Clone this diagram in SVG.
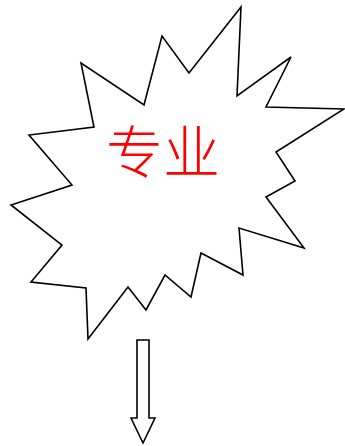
<svg xmlns="http://www.w3.org/2000/svg" width="345" height="446" viewBox="0 0 345 446">
<style>
.shape{fill:#fff;stroke:#000;stroke-width:1.6;stroke-linejoin:miter}
.label{font-family:"Noto Sans CJK SC","Noto Sans CJK JP",sans-serif;font-size:57px;font-weight:300;fill:#f00}
</style>
<rect width="345" height="446" fill="#fff"/>
<g id="burst">
<polygon class="shape" points="241,7 237,96 291,57 266,107 344,109 276,152 295,181 266,197 304,248 239,228 243,275 201,253 191,297 165,275 146,310 128,287 88,339 86,288 31,282 62,245 11,205 72,185 29,135 94,127 81,63 144,105 162,36 189,73"/>
<text class="label" x="163" y="173" text-anchor="middle">专业</text>
</g>
<g id="connectors">
<polygon class="shape" stroke-width="1.3" points="137,340 149,340 149,418 155,418 143,443 131,418 137,418"/>
</g>
</svg>
